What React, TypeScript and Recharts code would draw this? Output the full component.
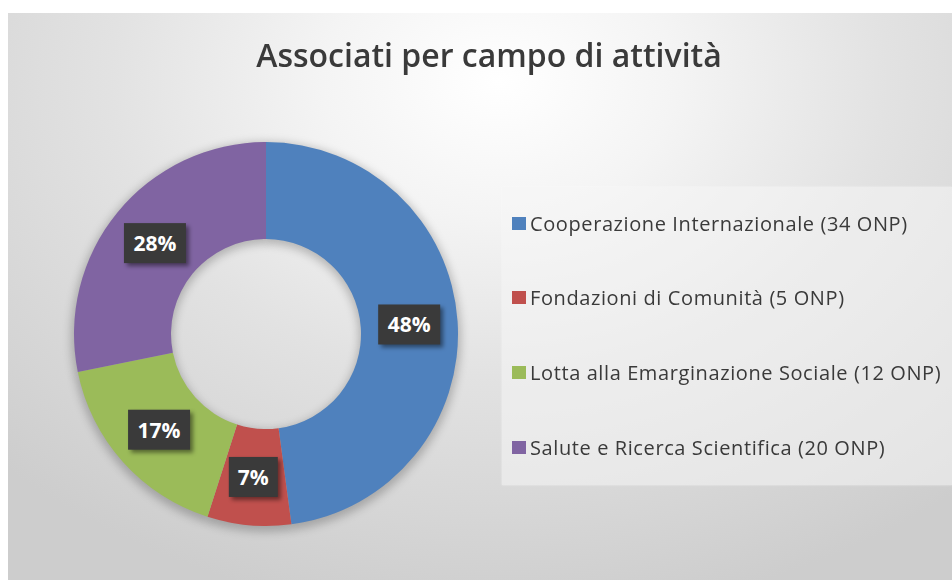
import React from 'react';
import { PieChart, Pie, Cell, Legend } from 'recharts';

const title = 'Associati per campo di attività';
const categories = [
  'Cooperazione Internazionale (34 ONP)',
  'Fondazioni di Comunità (5 ONP)',
  'Lotta alla Emarginazione Sociale (12 ONP)',
  'Salute e Ricerca Scientifica (20 ONP)',
];
const values = [34, 5, 12, 20];
const colors = ['#4F81BD', '#C0504D', '#9BBB59', '#8064A2'];

const data = categories.map((name, i) => ({ name, value: values[i] }));

const RADIAN = Math.PI / 180;

const renderLabel = (props: any) => {
  const { cx, cy, midAngle, innerRadius, outerRadius, percent, index } = props;
  const r = (innerRadius + outerRadius) / 2;
  const x = cx + r * Math.cos(-midAngle * RADIAN);
  const y = cy + r * Math.sin(-midAngle * RADIAN);
  const text = `${Math.round(percent * 100)}%`;
  const w = text.length <= 2 ? 49 : 62;
  const h = 40;
  const fid = `lblshadow${index}`;
  return (
    <g>
      <defs>
        <filter id={fid} x="-30%" y="-30%" width="160%" height="160%">
          <feGaussianBlur stdDeviation="2" />
        </filter>
      </defs>
      <rect x={x - w / 2 + 3} y={y - h / 2 + 3} width={w} height={h} fill="rgba(0,0,0,0.45)" filter={`url(#${fid})`} />
      <rect x={x - w / 2} y={y - h / 2} width={w} height={h} fill="#3a3a3a" />
      <text
        x={x}
        y={y}
        textAnchor="middle"
        dominantBaseline="central"
        fill="#ffffff"
        fontFamily="'Open Sans', sans-serif"
        fontWeight={700}
        fontSize={21}
      >
        {text}
      </text>
    </g>
  );
};

const renderLegend = () => (
  <div
    style={{
      position: 'relative',
      width: 450,
      height: 298,
      background: 'rgba(245,245,245,0.55)',
      boxShadow: '0 0 2px rgba(255,255,255,0.6)',
    }}
  >
    {categories.map((c, i) => (
      <div
        key={c}
        style={{
          position: 'absolute',
          left: 10,
          top: 36 + i * 74.7 - 12,
          height: 24,
          display: 'flex',
          alignItems: 'center',
          whiteSpace: 'nowrap',
        }}
      >
        <span style={{ display: 'inline-block', width: 14, height: 13, background: colors[i], marginRight: 4 }} />
        <span
          style={{
            fontFamily: "'Open Sans', sans-serif",
            fontSize: 20,
            color: '#3a3a3a',
            letterSpacing: 0.6,
          }}
        >
          {c}
        </span>
      </div>
    ))}
  </div>
);

export default function App() {
  return (
    <div
      style={{
        position: 'fixed',
        left: 8,
        top: 13,
        width: 944,
        height: 567,
        overflow: 'hidden',
        background:
          'radial-gradient(ellipse 75% 95% at 52% 12%, #ffffff 0%, #f4f4f4 25%, #e2e2e2 55%, #cdcdcd 100%)',
      }}
    >
      <div
        style={{
          position: 'absolute',
          left: 0,
          width: 962,
          top: 20,
          textAlign: 'center',
          fontFamily: "'Open Sans', sans-serif",
          fontWeight: 600,
          fontSize: 32,
          color: '#3a3a3a',
          lineHeight: '44px',
        }}
      >
        {title}
      </div>
      <PieChart width={944} height={567} margin={{ top: 0, right: 0, bottom: 0, left: 0 }}>
        <Pie
          data={data}
          dataKey="value"
          nameKey="name"
          cx={258}
          cy={324}
          innerRadius={93}
          outerRadius={195}
          startAngle={90}
          endAngle={-270}
          stroke="none"
          isAnimationActive={false}
        >
          {data.map((d) => (
            <Cell key={`s-${d.name}`} fill="rgba(0,0,0,0.22)" style={{ filter: 'blur(4px)' }} />
          ))}
        </Pie>
        <Pie
          data={data}
          dataKey="value"
          nameKey="name"
          cx={258}
          cy={321}
          innerRadius={95}
          outerRadius={192}
          startAngle={90}
          endAngle={-270}
          stroke="none"
          label={renderLabel}
          labelLine={false}
          isAnimationActive={false}
        >
          {data.map((d, i) => (
            <Cell key={d.name} fill={colors[i]} />
          ))}
        </Pie>
        <Legend
          content={renderLegend}
          wrapperStyle={{ position: 'absolute', left: 494, top: 174, width: 450, height: 298 }}
        />
      </PieChart>
    </div>
  );
}
